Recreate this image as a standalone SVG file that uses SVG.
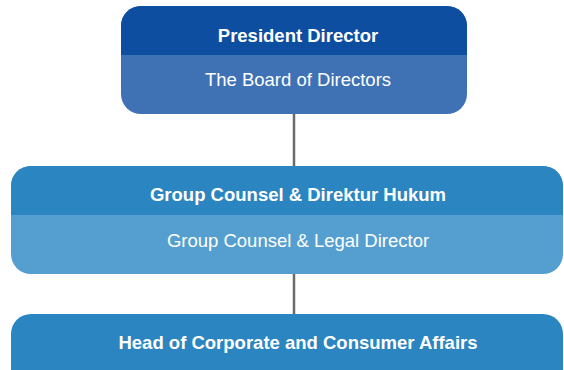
<svg xmlns="http://www.w3.org/2000/svg" width="564" height="370" viewBox="0 0 564 370">
<style>
.t{font-family:"Liberation Sans",Arial,sans-serif;font-size:18.5px;fill:#ffffff;text-anchor:middle}
.b{font-weight:bold}
.conn{stroke:#6b6b6b;stroke-width:2.5;fill:none}
</style>
<rect width="564" height="370" fill="#ffffff"/>
<g id="connectors">
<line class="conn" x1="294" y1="112" x2="294" y2="168"/>
<line class="conn" x1="294" y1="272" x2="294" y2="316"/>
</g>
<g id="president">
<rect x="121" y="6" width="346" height="108" rx="20" fill="#3f72b5"/>
<path d="M121,55 V26 A20,20 0 0 1 141,6 H447 A20,20 0 0 1 467,26 V55 Z" fill="#0d4ea1"/>
<text class="t b" x="298" y="41.5">President Director</text>
<text class="t" x="298" y="85.5">The Board of Directors</text>
</g>
<g id="counsel">
<rect x="11" y="166" width="552" height="108" rx="20" fill="#559fd0"/>
<path d="M11,215 V186 A20,20 0 0 1 31,166 H543 A20,20 0 0 1 563,186 V215 Z" fill="#2a85c0"/>
<text class="t b" x="298" y="200.5">Group Counsel &amp; Direktur Hukum</text>
<text class="t" x="298" y="246.5">Group Counsel &amp; Legal Director</text>
</g>
<g id="head">
<rect x="11" y="314" width="552" height="90" rx="20" fill="#2a85c0"/>
<text class="t b" x="298" y="348.5">Head of Corporate and Consumer Affairs</text>
</g>
</svg>
